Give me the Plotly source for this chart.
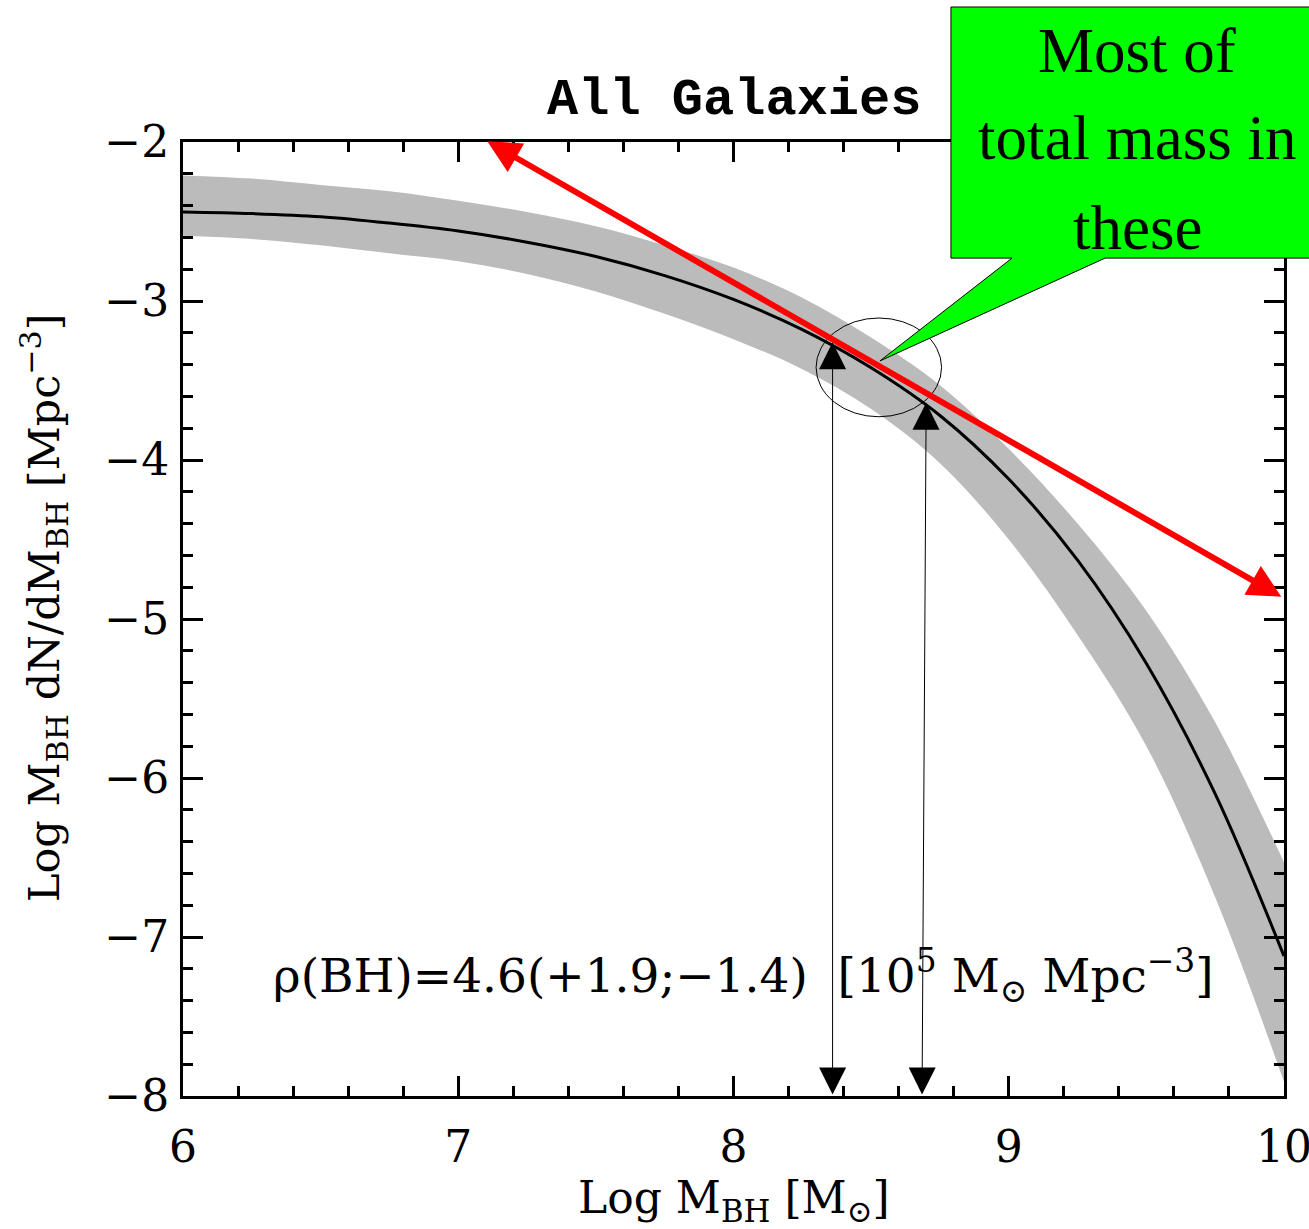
import plotly.graph_objects as go

# Black-hole mass function: log M_BH, central estimate and uncertainty band
log_mbh = [6.0, 6.25, 6.5, 6.75, 7.0, 7.25, 7.5, 7.75, 8.0, 8.25, 8.5, 8.75,
           9.0, 9.25, 9.5, 9.75, 10.0]
phi_mid = [-2.44, -2.45, -2.47, -2.51, -2.56, -2.63, -2.72, -2.84, -2.99, -3.18,
           -3.42, -3.72, -4.12, -4.63, -5.28, -6.10, -7.12]
phi_hi = [-2.21, -2.23, -2.27, -2.31, -2.37, -2.44, -2.53, -2.65, -2.79, -2.98,
          -3.23, -3.53, -3.93, -4.40, -4.95, -5.65, -6.53]
phi_lo = [-2.59, -2.61, -2.65, -2.70, -2.75, -2.83, -2.94, -3.08, -3.24, -3.43,
          -3.68, -4.02, -4.50, -5.10, -5.80, -6.75, -7.91]

# Mass range holding most of the total mass (arrow positions on the curve)
range_x_top = [8.36, 8.70]
range_x_bot = [8.36, 8.685]
range_y_top = [-3.26, -3.64]
range_y_bot = [-8.0, -8.0]

# Slope guide (red double arrow) end points
slope_x = [7.10, 9.99]
slope_y = [-1.99, -4.86]

# Highlight ellipse around the peak of M dN/dM contribution
ring_x = [8.30, 8.756]
ring_y = [-3.728, -3.107]

# Callout polygon (box + pointer), in data units
callout_x = [8.79, 10.15, 10.15, 9.35, 8.532, 9.012, 8.79]
callout_y = [-1.151, -1.151, -2.73, -2.73, -3.377, -2.73, -2.73]
callout_lines = ["Most of", "total mass in", "these"]
callout_line_y = [-1.428, -1.975, -2.541]
callout_text_x = 9.466

X_RANGE = [6, 10]
Y_RANGE = [-8, -2]

TICK_FONT = "DejaVu Serif"
MONO = "Liberation Mono"
SERIF = "Liberation Serif"


def to_paper(x, y):
    px = (x - X_RANGE[0]) / (X_RANGE[1] - X_RANGE[0])
    py = (y - Y_RANGE[0]) / (Y_RANGE[1] - Y_RANGE[0])
    return px, py


fig = go.Figure()

fig.add_trace(go.Scatter(x=log_mbh, y=phi_lo, mode="lines", line=dict(width=0, shape="spline"),
                         hoverinfo="skip", showlegend=False))
fig.add_trace(go.Scatter(x=log_mbh, y=phi_hi, mode="lines", line=dict(width=0, shape="spline"),
                         fill="tonexty", fillcolor="#BBBBBB", hoverinfo="skip", showlegend=False))
fig.add_trace(go.Scatter(x=log_mbh, y=phi_mid, mode="lines",
                         line=dict(color="black", width=3, shape="spline"), showlegend=False))

# Ellipse
fig.add_shape(type="circle", xref="x", yref="y", x0=ring_x[0], x1=ring_x[1],
              y0=ring_y[0], y1=ring_y[1], line=dict(color="black", width=1))

# Callout box with pointer
pts = [to_paper(x, y) for x, y in zip(callout_x, callout_y)]
path = "M " + " L ".join(f"{px:.4f},{py:.4f}" for px, py in pts) + " Z"
fig.add_shape(type="path", xref="paper", yref="paper", path=path,
              fillcolor="#00FF00", line=dict(color="black", width=1), layer="above")

annotations = []
for txt, yy in zip(callout_lines, callout_line_y):
    px, py = to_paper(callout_text_x, yy)
    annotations.append(dict(x=px, y=py, xref="paper", yref="paper", text=txt,
                            showarrow=False, xanchor="center", yanchor="middle",
                            font=dict(family=SERIF, size=63, color="black")))

# Red double-headed arrow
annotations.append(dict(x=slope_x[1], y=slope_y[1], ax=slope_x[0], ay=slope_y[0],
                        xref="x", yref="y", axref="x", ayref="y", text="",
                        showarrow=True, arrowside="end+start", arrowhead=2, startarrowhead=2,
                        arrowsize=1.1, startarrowsize=1.1, arrowwidth=6, arrowcolor="#FF0000"))

# Black double-headed arrows marking the mass range
for xt, xb, yt, yb in zip(range_x_top, range_x_bot, range_y_top, range_y_bot):
    annotations.append(dict(x=xt, y=yt, ax=xb, ay=yb, xref="x", yref="y", axref="x", ayref="y",
                            text="", showarrow=True, arrowside="end+start", arrowhead=2,
                            startarrowhead=2, arrowsize=5.4, startarrowsize=5.4,
                            arrowwidth=1, arrowcolor="black"))

# Density label
annotations.append(dict(x=6.32, y=-7.24, xref="x", yref="y",
                        text="ρ(BH)=4.6(+1.9;−1.4)  [10<sup>5</sup> M<sub>⊙</sub> Mpc<sup>−3</sup>]",
                        showarrow=False, xanchor="left", yanchor="middle",
                        font=dict(family=TICK_FONT, size=47, color="black")))

# Title and axis titles
tx, ty = to_paper(7.99, -1.736)
annotations.append(dict(x=0.5, y=ty, xref="paper", yref="paper", text="<b>All Galaxies</b>",
                        showarrow=False, xanchor="center", yanchor="middle",
                        font=dict(family=MONO, size=52, color="black")))
tx, ty = to_paper(8.0, -8.66)
annotations.append(dict(x=0.5, y=ty, xref="paper", yref="paper",
                        text="Log M<sub>BH</sub> [M<sub>⊙</sub>]",
                        showarrow=False, xanchor="center", yanchor="middle",
                        font=dict(family=TICK_FONT, size=44, color="black")))
tx, ty = to_paper(5.495, -4.925)
annotations.append(dict(x=tx, y=ty, xref="paper", yref="paper", textangle=-90,
                        text="Log M<sub>BH</sub> dN/dM<sub>BH</sub> [Mpc<sup>−3</sup>]",
                        showarrow=False, xanchor="center", yanchor="middle",
                        font=dict(family=TICK_FONT, size=43, color="black")))

axis_common = dict(showline=True, linecolor="black", linewidth=3, mirror="ticks",
                   ticks="inside", ticklen=20, tickwidth=3, tickcolor="black",
                   showgrid=False, zeroline=False, ticklabeloverflow="allow",
                   automargin=False,
                   tickfont=dict(family=TICK_FONT, size=44, color="black"))

fig.update_layout(
    width=1309, height=1229,
    margin=dict(l=183, r=25, t=142, b=133, autoexpand=False),
    paper_bgcolor="white", plot_bgcolor="white",
    xaxis=dict(range=X_RANGE, dtick=1, tick0=6, ticklabelstandoff=10,
               minor=dict(dtick=0.2, ticks="inside", ticklen=10, tickwidth=3, tickcolor="black"),
               **axis_common),
    yaxis=dict(range=Y_RANGE, dtick=1, tick0=-8, ticklabelstandoff=2,
               minor=dict(dtick=0.2, ticks="inside", ticklen=10, tickwidth=3, tickcolor="black"),
               **axis_common),
    annotations=annotations,
)

fig.write_html("out.html")
